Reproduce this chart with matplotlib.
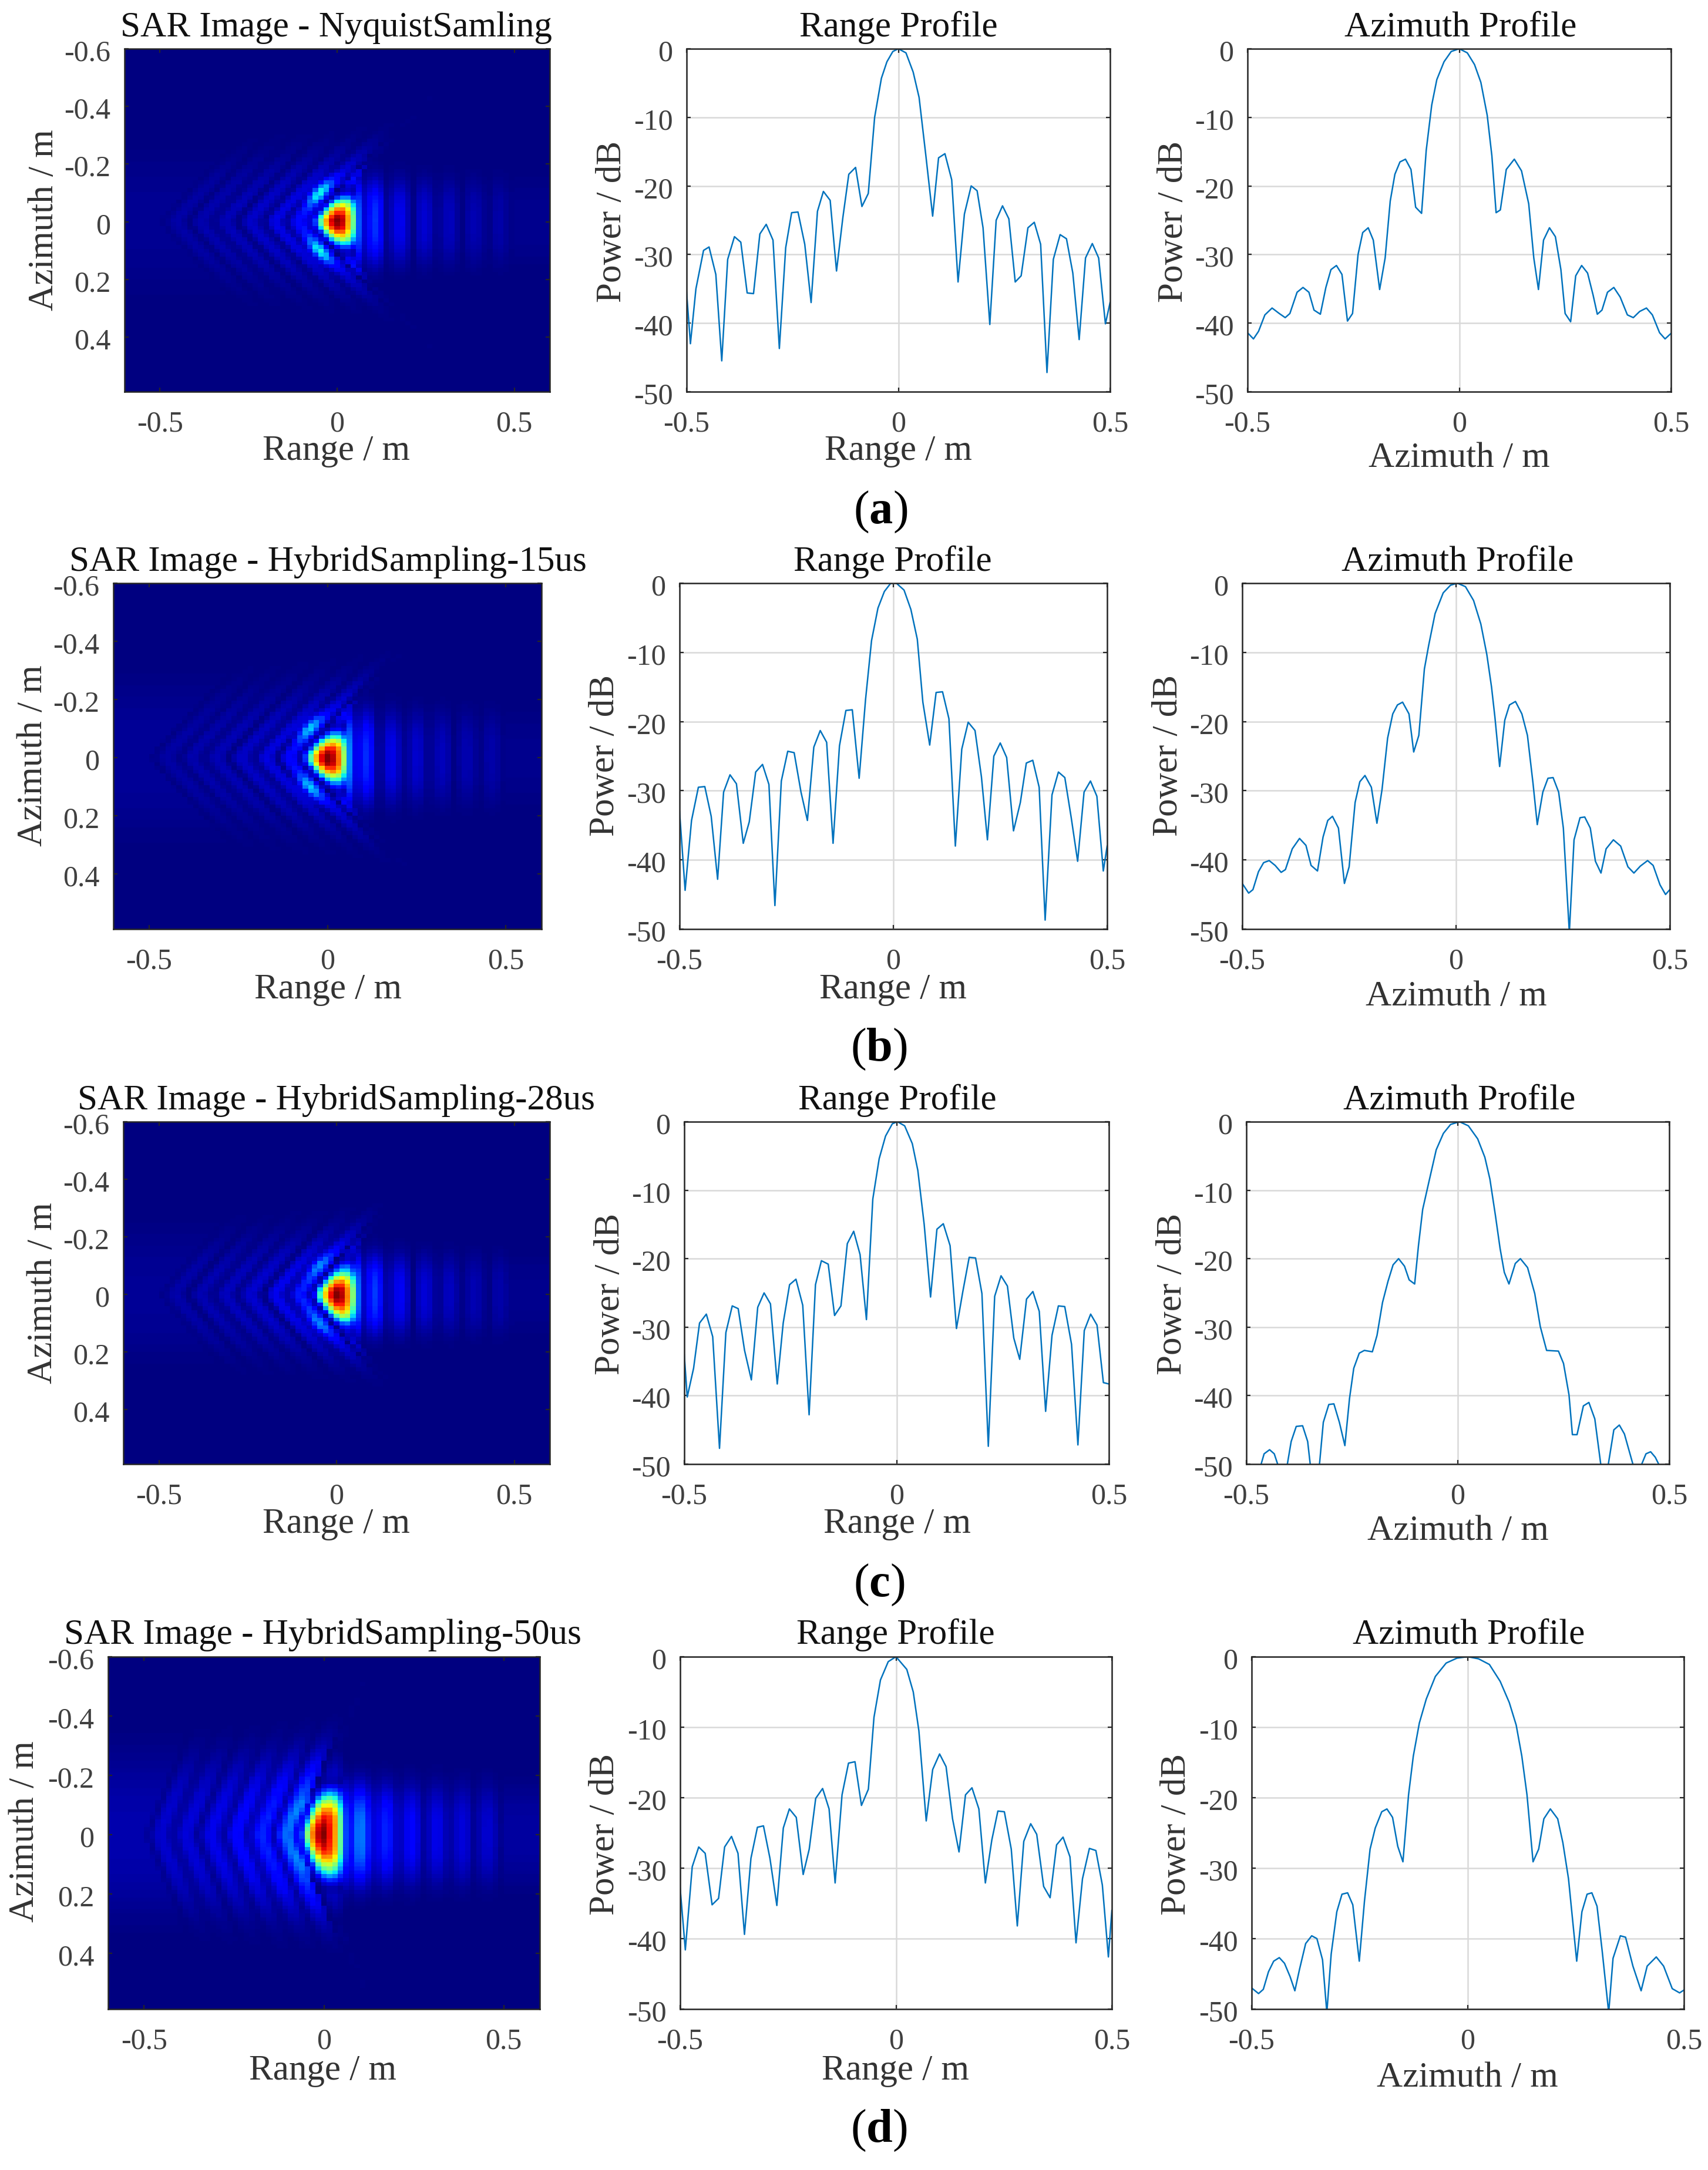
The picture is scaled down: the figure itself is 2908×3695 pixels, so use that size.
import numpy as np
import matplotlib
matplotlib.use("Agg")
import matplotlib.pyplot as plt
from matplotlib.transforms import ScaledTranslation

plt.rcParams['font.family'] = ['Liberation Serif', 'DejaVu Serif']
plt.rcParams['mathtext.fontset'] = 'custom'
plt.rcParams['mathtext.bf'] = 'Liberation Serif:bold'
plt.rcParams['mathtext.rm'] = 'Liberation Serif'

# ---------- data ----------
range_a_x = [-.5,-.491,-.478,-.460,-.447,-.431,-.417,-.403,-.387,-.372,-.357,-.342,-.327,-.312,-.296,-.281,-.266,-.252,-.237,-.221,-.206,-.191,-.177,-.161,-.146,-.131,-.117,-.101,-.086,-.071,-.056,-.040,-.027,-.013,0,.018,.035,.049,.065,.081,.095,.11,.126,.141,.156,.172,.186,.2,.216,.231,.246,.261,.276,.29,.306,.321,.336,.351,.366,.382,.397,.412,.427,.442,.458,.473,.489,.5]
range_a_y = [-35.5,-43,-35,-29.4,-28.9,-32.9,-45.5,-30.7,-27.4,-28.2,-35.6,-35.7,-27,-25.6,-27.9,-43.7,-29,-23.9,-23.8,-28.5,-37,-23.7,-20.8,-22.1,-32.4,-24.6,-18.3,-17.3,-23,-21.1,-10,-4.3,-1.9,-.4,0,-.6,-3.4,-7.1,-15.6,-24.4,-15.9,-15.3,-19.1,-34,-24.1,-20,-20.7,-26.1,-40.2,-25,-22.9,-24.8,-34,-33.1,-26.1,-25.3,-28.5,-47.2,-30.7,-27.1,-27.7,-32.7,-42.4,-30.5,-28.4,-30.5,-40.1,-37]
range_b_x = [-.5,-.487,-.472,-.456,-.441,-.426,-.411,-.397,-.382,-.367,-.351,-.337,-.322,-.306,-.291,-.277,-.262,-.247,-.232,-.216,-.201,-.186,-.171,-.156,-.141,-.126,-.111,-.096,-.08,-.065,-.051,-.036,-.021,-.006,.007,.025,.041,.056,.069,.085,.1,.115,.13,.145,.16,.175,.191,.206,.22,.235,.25,.265,.281,.297,.311,.326,.341,.355,.371,.386,.401,.416,.431,.446,.461,.476,.491,.5]
range_b_y = [-33,-44.4,-34.3,-29.5,-29.4,-33.7,-42.8,-30.2,-27.7,-29,-37.6,-34.5,-27.3,-26.2,-29.1,-46.6,-28.6,-24.3,-24.5,-30.2,-34.3,-23.7,-21.3,-23,-37.6,-23.5,-18.4,-18.3,-28.2,-16.8,-8.3,-3.6,-1.2,0,0,-1,-3.8,-8.1,-17.2,-23.4,-15.8,-15.7,-19.6,-38,-24,-20.1,-21.3,-28,-37.1,-25,-23.1,-25.2,-35.8,-31.7,-26,-25.6,-29.5,-48.7,-30.6,-27.3,-28.1,-33.9,-40.2,-30.2,-28.6,-30.8,-41.6,-38]
range_c_x = [-.5,-.493,-.478,-.464,-.448,-.433,-.417,-.402,-.387,-.373,-.358,-.342,-.327,-.312,-.297,-.281,-.267,-.252,-.237,-.221,-.206,-.191,-.177,-.161,-.146,-.131,-.116,-.101,-.086,-.071,-.056,-.041,-.026,-.01,.002,.019,.037,.05,.065,.08,.095,.11,.126,.141,.156,.171,.186,.201,.216,.231,.246,.261,.276,.29,.306,.321,.336,.351,.366,.381,.396,.412,.427,.442,.457,.472,.487,.5]
range_c_y = [-34,-40.2,-36,-29.4,-28.1,-31.4,-47.7,-30.8,-26.9,-27.3,-33.4,-37.7,-27.1,-25,-26.6,-38.3,-29.4,-23.8,-23,-26.8,-42.8,-23.8,-20.3,-20.8,-28.3,-26.9,-17.8,-16,-19.4,-28.9,-11.3,-5.4,-2.1,-.3,0,-.6,-3.2,-7.1,-15,-25.6,-15.7,-14.9,-18.1,-30.2,-24.8,-19.8,-19.9,-25.1,-47.4,-25.5,-22.5,-24,-31.6,-34.7,-25.9,-24.8,-27.7,-42.3,-31.2,-26.9,-27,-32.5,-47.2,-30.5,-28.1,-29.7,-38.1,-38.3]
range_d_x = [-.5,-.488,-.472,-.457,-.442,-.426,-.411,-.397,-.381,-.366,-.351,-.336,-.321,-.307,-.292,-.276,-.261,-.247,-.231,-.215,-.201,-.186,-.17,-.155,-.141,-.125,-.11,-.095,-.08,-.064,-.051,-.036,-.018,0,.025,.04,.053,.07,.085,.101,.116,.131,.146,.161,.176,.192,.207,.222,.236,.251,.267,.281,.296,.312,.326,.342,.357,.372,.387,.403,.417,.432,.448,.463,.478,.492,.5]
range_d_y = [-32.8,-41.6,-29.8,-27,-27.9,-35.2,-34.3,-27,-25.5,-27.9,-39.4,-28.6,-24.2,-24,-28.6,-35.3,-24.3,-21.6,-22.8,-30.9,-27.3,-20.1,-18.7,-21.6,-32.1,-19.6,-15.1,-14.9,-21.1,-18.8,-8.6,-3.3,-.7,0,-1.8,-5,-10.5,-23.3,-16,-13.8,-15.6,-23,-27.7,-19.6,-18.6,-21.6,-32.1,-26,-21.9,-22,-27.3,-38.2,-26.2,-23.7,-25.2,-32.6,-34.2,-26.7,-25.6,-28.4,-40.6,-31.5,-27.2,-27.5,-32.4,-42.6,-36]

az_a_x = [-.5,-.486,-.474,-.459,-.442,-.425,-.411,-.4,-.383,-.369,-.355,-.343,-.328,-.315,-.303,-.29,-.277,-.264,-.252,-.239,-.228,-.215,-.203,-.188,-.175,-.163,-.152,-.14,-.127,-.114,-.103,-.089,-.078,-.065,-.053,-.036,-.019,0,.019,.036,.051,.066,.077,.087,.097,.111,.13,.147,.164,.176,.187,.199,.213,.227,.24,.25,.263,.275,.289,.303,.316,.326,.337,.35,.365,.38,.397,.411,.426,.442,.456,.473,.486,.5]
az_a_y = [-41.4,-42.3,-41.2,-38.8,-37.8,-38.6,-39.2,-38.6,-35.5,-34.8,-35.5,-38.1,-38.7,-34.8,-32.2,-31.6,-32.9,-39.7,-38.6,-30,-26.8,-26.1,-27.9,-35.1,-30.5,-22.2,-18.3,-16.5,-16.1,-17.6,-23.1,-24,-14.8,-8.2,-4.5,-1.9,-.4,0,-.6,-2.3,-4.9,-9.7,-15.6,-23.9,-23.5,-17.6,-16.1,-17.8,-22.6,-30.5,-35.1,-27.9,-26.1,-27.4,-32.2,-38.6,-39.8,-33.1,-31.6,-32.7,-35.9,-38.7,-38.1,-35.5,-34.8,-36.2,-38.8,-39.2,-38.3,-37.8,-38.8,-41.4,-42.3,-41.5]
az_b_x = [-.5,-.485,-.475,-.462,-.45,-.437,-.423,-.409,-.399,-.383,-.366,-.351,-.339,-.324,-.311,-.3,-.289,-.275,-.261,-.25,-.236,-.225,-.213,-.198,-.185,-.173,-.16,-.148,-.137,-.125,-.11,-.099,-.087,-.074,-.064,-.049,-.03,-.013,.003,.022,.041,.058,.072,.083,.091,.102,.114,.125,.139,.154,.167,.18,.19,.203,.215,.227,.24,.251,.265,.276,.29,.301,.314,.326,.339,.351,.368,.385,.402,.416,.431,.448,.461,.477,.49,.5]
az_b_y = [-43.4,-44.8,-44.3,-41.7,-40.4,-40.1,-40.8,-41.8,-41.4,-38.4,-36.9,-37.9,-40.8,-41.6,-36.7,-34.3,-33.7,-35.4,-43.4,-41,-31.7,-28.7,-27.8,-29.5,-34.7,-29.8,-22.4,-18.9,-17.6,-17.2,-18.9,-24.4,-22,-12.4,-9,-4.4,-1.4,-.3,0,-.5,-2.5,-5.9,-10.3,-15,-19.4,-26.5,-19.8,-17.6,-17.1,-18.9,-22,-28.9,-34.9,-30.2,-28.2,-28.1,-30.2,-35.4,-50.5,-37.1,-33.9,-33.8,-35.4,-40.2,-41.9,-38.4,-37.1,-38,-41,-41.9,-40.9,-40.1,-40.8,-43.6,-45,-44.3]
az_c_x = [-.5,-.465,-.458,-.445,-.434,-.426,-.415,-.403,-.394,-.382,-.367,-.355,-.349,-.34,-.327,-.318,-.305,-.293,-.28,-.267,-.256,-.246,-.233,-.221,-.202,-.191,-.178,-.165,-.153,-.14,-.126,-.115,-.102,-.093,-.083,-.068,-.051,-.034,-.017,.004,.025,.047,.064,.076,.089,.1,.11,.121,.136,.148,.165,.182,.195,.21,.238,.25,.263,.271,.282,.297,.31,.324,.338,.347,.356,.369,.382,.394,.414,.424,.435,.445,.456,.467,.475,.5]
az_c_y = [-55,-50,-48.5,-47.9,-48.5,-50,-54,-50,-46.7,-44.5,-44.4,-46.7,-50,-56,-50,-43.9,-41.3,-41.2,-43.9,-47.3,-40.4,-36,-33.8,-33.4,-33.6,-31.2,-26.4,-23.3,-20.9,-20,-21.1,-23.1,-23.7,-18.1,-12.8,-8.7,-4.1,-1.7,-.4,0,-.6,-2.5,-5.2,-8.4,-13.7,-18.5,-22,-23.7,-20.7,-20,-21.3,-25.1,-29.9,-33.4,-33.5,-35.3,-39.9,-45.7,-45.7,-41.5,-41,-43.4,-50,-54,-50,-45,-44.3,-45.6,-50,-54,-50,-48.5,-48.2,-49,-50,-55]
az_d_x = [-.5,-.484,-.473,-.461,-.449,-.436,-.424,-.411,-.4,-.389,-.375,-.361,-.349,-.336,-.326,-.316,-.303,-.291,-.278,-.266,-.251,-.239,-.226,-.214,-.199,-.187,-.174,-.162,-.15,-.137,-.126,-.112,-.096,-.075,-.05,-.025,0,.025,.05,.075,.096,.112,.125,.137,.151,.164,.176,.191,.208,.22,.233,.252,.264,.276,.287,.299,.311,.326,.336,.353,.365,.382,.401,.415,.436,.453,.473,.49,.5]
az_d_y = [-47,-47.8,-47.2,-44.7,-43.2,-42.7,-43.5,-45.4,-47.4,-44.3,-40.7,-39.6,-40,-43,-50.5,-42.2,-36.2,-33.7,-33.5,-35.2,-43.2,-34.7,-27.3,-24.3,-22,-21.6,-22.8,-26.9,-29.1,-19.6,-14.1,-9.4,-6,-2.8,-.9,-.2,0,-.3,-1.1,-3.5,-6.5,-9.7,-14.1,-19.6,-29.1,-27.3,-23,-21.6,-23,-26.4,-31.5,-43.2,-36.2,-33.7,-33.5,-35.4,-41.8,-50.5,-42.8,-39.6,-39.8,-43.9,-47.4,-43.9,-42.6,-43.9,-47.1,-47.7,-47.3]

image_titles = ['SAR Image - NyquistSamling', 'SAR Image - HybridSampling-15us',
                'SAR Image - HybridSampling-28us', 'SAR Image - HybridSampling-50us']
captions = ['a', 'b', 'c', 'd']
power_ticks = [0, -10, -20, -30, -40, -50]
power_tick_labels = ['0', '-10', '-20', '-30', '-40', '-50']
profile_ticks = [-0.5, 0, 0.5]
profile_tick_labels = ['-0.5', '0', '0.5']
az_image_ticks = [-0.6, -0.4, -0.2, 0, 0.2, 0.4]
az_image_tick_labels = ['-0.6', '-0.4', '-0.2', '0', '0.2', '0.4']

# ---------- layout, in pixels of the 2908x3695 figure ----------
W, H = 2908, 3695
S = 2.357
row_y = [(83, 667), (993, 1582), (1910, 2493), (2821, 3421)]
img_x = [(212, 936), (193, 922), (210, 936), (184, 919)]
rng_x = [(1169, 1890), (1157, 1885), (1165, 1888), (1158, 1893)]
azi_x = [(2124, 2845), (2115, 2843), (2122, 2842), (2131, 2867)]
title_xy = [[(243, 20), (649, 20), (1055, 20)], [(237, 406), (645, 406), (1053, 406)],
            [(243, 795), (648, 795), (1054, 795)], [(233, 1181), (647, 1181), (1061, 1181)]]
xlabel_xy = [[(243, 326), (649, 326), (1054, 331)], [(237, 715), (645, 715), (1052, 720)],
             [(243, 1101), (648, 1101), (1053, 1106)], [(233, 1496), (647, 1496), (1060, 1501)]]
ylabel_xy = [[(32, 159), (442, 160), (848, 160)], [(24, 546), (437, 546), (844, 546)],
             [(31, 934), (441, 935), (847, 935)], [(18, 1323), (437, 1325), (850, 1325)]]
caption_xy = [(636, 370), (635, 758), (635, 1145), (635, 1539)]

# style of the SAR image per panel: chevron slope, shoulder strength, side-lobe extent, contrast
chevron = [0.78, 0.78, 0.72, 0.35]
shoulder = [0.28, 0.24, 0.14, 0.06]
extent = [0.14, 0.15, 0.13, 0.15]
contrast = [1.0, 1.0, 1.0, 0.85]

ranges = [(range_a_x, range_a_y), (range_b_x, range_b_y), (range_c_x, range_c_y), (range_d_x, range_d_y)]
azimuths = [(az_a_x, az_a_y), (az_b_x, az_b_y), (az_c_x, az_c_y), (az_d_x, az_d_y)]

TXT = 44
TICK = 36
INK = '#262626'
LINE = '#0072BD'
GRID = '#d9d9d9'
fig = plt.figure(figsize=(W / 100, H / 100), dpi=100, facecolor='white')


def add_axes(xr, yr):
    return fig.add_axes([xr[0] / W, 1 - yr[1] / H, (xr[1] - xr[0]) / W, (yr[1] - yr[0]) / H])


def put(x, y, s, size=TXT, color='#1a1a1a', rot=0):
    fig.text(x * S / W, 1 - y * S / H, s, fontsize=size, color=color, rotation=rot,
             ha='center', va='center')


def style(ax):
    for sp in ax.spines.values():
        sp.set_linewidth(1.8)
        sp.set_color(INK)
    ax.tick_params(direction='in', length=5, width=1.6, color=INK, top=True, right=True,
                   labelsize=TICK, labelcolor='#404040')
    ax.tick_params(axis='x', pad=23)
    ax.tick_params(axis='y', pad=17)
    off = ScaledTranslation(0, -2 / 72, fig.dpi_scale_trans)
    for lab in ax.get_yticklabels():
        lab.set_transform(lab.get_transform() + off)


def sar_image(rp, ap, slope, boost, sig, gamma):
    # built from the two profiles read above
    rc = np.linspace(-0.6, 0.6, 79)
    ac = np.linspace(-0.6, 0.59, 91)
    rr, aa = np.meshgrid(rc, ac)
    s = slope * (np.sqrt(aa ** 2 + 0.015 ** 2) - 0.015)
    null = -0.08
    pin = np.maximum(0.055, null + s + 0.03)
    left = null + s
    rmap = np.where(rr >= pin, rr, rr - s)
    inside = (rr < pin) & (rr >= left)
    rmap = np.where(inside, null + (rr - left) / (pin - left) * (0.055 - null), rmap)
    R = 10 ** (np.interp(rmap, rp[0], rp[1]) / 20)
    A = 10 ** (np.interp(aa * 0.85, ap[0], ap[1]) / 20)
    env_l = np.exp(-(aa / (sig * 1.6)) ** 3)
    env_l = np.exp(-(np.abs(aa) / (sig * 1.6)) ** 3)
    env_r = np.exp(-(np.abs(aa) / sig) ** 3)
    fade = np.exp(-(np.abs(aa) / 0.2) ** 6)
    E = np.where(inside, A * (0.25 + 0.75 * fade), np.where(rr < left, env_l, env_r))
    Z = R * E
    u = (rr + 0.05) - 0.6 * (np.abs(aa) - 0.104)
    v = np.abs(aa) - 0.104
    Z = Z + boost * np.exp(-(u / 0.022) ** 2 - (v / 0.042) ** 2) * (rr < left)
    return rc, ac, (Z / Z.max()) ** gamma


for i in range(4):
    # SAR image
    ax = add_axes(img_x[i], row_y[i])
    rc, ac, Z = sar_image(ranges[i], azimuths[i], chevron[i], shoulder[i], extent[i], contrast[i])
    ax.pcolormesh(rc, ac, Z, cmap='jet', vmin=0, vmax=1, shading='nearest', rasterized=True)
    ax.set_xlim(-0.6, 0.6)
    ax.set_ylim(0.589, -0.6)
    ax.set_xticks(profile_ticks, profile_tick_labels)
    ax.set_yticks(az_image_ticks, az_image_tick_labels)
    style(ax)
    # range and azimuth profiles
    for j, (xr, (px, py)) in enumerate([(rng_x[i], ranges[i]), (azi_x[i], azimuths[i])]):
        ax = add_axes(xr, row_y[i])
        ax.plot(px, py, color=LINE, lw=1.8, solid_joinstyle='round')
        ax.set_xlim(-0.5, 0.5)
        ax.set_ylim(-50, 0)
        ax.set_xticks(profile_ticks, profile_tick_labels)
        ax.set_yticks(power_ticks, power_tick_labels)
        ax.grid(True, color=GRID, lw=1.8)
        ax.set_axisbelow(True)
        style(ax)
    # texts
    for j, t in enumerate([image_titles[i], 'Range Profile', 'Azimuth Profile']):
        put(*title_xy[i][j], t, color='#111111')
    for j, t in enumerate(['Range / m', 'Range / m', 'Azimuth / m']):
        put(*xlabel_xy[i][j], t, color='#333333')
    for j, t in enumerate(['Azimuth / m', 'Power / dB', 'Power / dB']):
        put(*ylabel_xy[i][j], t, color='#333333', rot=90)
    put(*caption_xy[i], '($\\mathbf{' + captions[i] + '}$)', size=58, color='black')

fig.savefig('out.png', dpi=100, facecolor='white')
